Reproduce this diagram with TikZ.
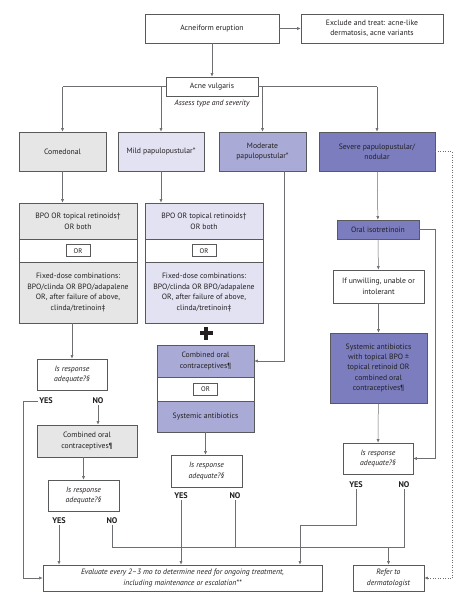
\documentclass[tikz,border=0pt]{standalone}
\usepackage{fontspec}
\setmainfont{PT Sans}
\usetikzlibrary{arrows.meta}
\definecolor{txt}{HTML}{231F20}
\definecolor{edge}{HTML}{58595B}
\definecolor{wire}{HTML}{6D6E71}
\definecolor{comfill}{HTML}{E6E6E6}
\definecolor{mildfill}{HTML}{E2E2F2}
\definecolor{modfill}{HTML}{A9ABD6}
\definecolor{sevfill}{HTML}{7B7DBE}

\begin{document}
\begin{tikzpicture}[x=1pt,y=-1pt,
		every node/.style={font=\fontsize{7.7}{10.4}\selectfont,align=center,text=txt,inner sep=1pt},
		box/.style={draw=edge,line width=0.7pt},
		sz/.style 2 args={minimum width=#1,minimum height=#2},
		orbox/.style={box,fill=white,sz={24}{12},font=\fontsize{6.8}{7}\selectfont},
		ask/.style={box,fill=white,font=\itshape\fontsize{7.7}{10.4}\selectfont},
		yn/.style={font=\bfseries\fontsize{8.2}{9}\selectfont},
		arr/.style={draw=wire,line width=0.5pt,-{Latex[length=3.5pt,width=3pt]}},
		wire/.style={draw=wire,line width=0.5pt}]
		\path[fill=white,use as bounding box] (0,0) rectangle (474,606);

		% Top
		\node[box,sz={134}{29}] (erupt) at (212,28.5) {Acneiform eruption};
		\node[box,sz={142}{29}] (excl) at (372,28.5) {Exclude and treat: acne-like\\dermatosis, acne variants};
		\node[box,sz={92}{19}] (vulg) at (212,86.5) {Acne vulgaris};
		\node[font=\itshape\fontsize{7.7}{10.4}\selectfont] (assess) at (212,104) {Assess type and severity};

		% Type and severity
		\node[box,fill=comfill,sz={87}{39}]  (com)  at (62.5,151.5) {Comedonal};
		\node[box,fill=mildfill,sz={86}{39}] (mild) at (161,151.5) {Mild papulopustular*};
		\node[box,fill=modfill,sz={87}{39}]  (mod)  at (262.5,151.5) {Moderate\\papulopustular*};
		\node[box,fill=sevfill,sz={116}{39}] (sev)  at (377,151.5) {Severe papulopustular/\\nodular};

		% Topical stacks (comedonal, mild)
		\foreach \s/\cx/\fc in {com/78/comfill,mild/204/mildfill} {
			\node[box,fill=\fc,sz={118}{36.5}] (\s A) at (\cx,221.25) {BPO OR topical retinoids†\\OR both};
			\node[box,fill=white,sz={118}{22.5}] (\s B) at (\cx,250.75) {};
			\node[orbox] at (\s B) {OR};
			\node[box,fill=\fc,sz={118}{61}] (\s C) at (\cx,292.5) {Fixed-dose combinations:\\BPO/clinda OR BPO/adapalene\\OR, after failure of above,\\clinda/tretinoin‡};
		}

		% Plus
		\coordinate (plus) at (206,333);
		\fill[txt] (plus) ++(-6.5,-2) rectangle ++(13,4);
		\fill[txt] (plus) ++(-2,-6.5) rectangle ++(4,13);

		% Oral stack (moderate)
		\node[box,fill=modfill,sz={97}{32}] (modA) at (205.5,361) {Combined oral\\contraceptives¶};
		\node[box,fill=white,sz={97}{24}] (modB) at (205.5,389) {};
		\node[orbox] at (modB) {OR};
		\node[box,fill=modfill,sz={97}{31}] (modC) at (205.5,416.5) {Systemic antibiotics};

		% Severe column
		\node[box,fill=sevfill,sz={82}{19}] (iso) at (378,229.5) {Oral isotretinoin};
		\node[box,fill=white,sz={91}{33}] (unw) at (378.5,286.5) {If unwilling, unable or\\intolerant};
		\node[box,fill=sevfill,sz={97}{70}] (sys) at (378.5,368) {Systemic antibiotics\\with topical BPO ±\\topical retinoid OR\\combined oral\\contraceptives¶};

		% Response checks
		\node[ask,sz={70}{31}] (q1) at (72,374.5) {Is response\\adequate?§};
		\node[box,fill=comfill,sz={100}{32}] (coc) at (87,441) {Combined oral\\contraceptives¶};
		\node[ask,sz={71}{31}] (q2) at (83.5,495.5) {Is response\\adequate?§};
		\node[ask,sz={71}{32}] (q3) at (206.5,471) {Is response\\adequate?§};
		\node[ask,sz={70}{31}] (q4) at (378,458.5) {Is response\\adequate?§};
		\node[yn] (yes1) at (46,401) {YES};  \node[yn] (no1) at (98,401) {NO};
		\node[yn] (yes2) at (59,521) {YES};  \node[yn] (no2) at (112,521) {NO};
		\node[yn] (yes3) at (181,496) {YES}; \node[yn] (no3) at (235,496) {NO};
		\node[yn] (yes4) at (356,485) {YES}; \node[yn] (no4) at (404,485) {NO};

		% Outcomes
		\node[ask,sz={279}{26}] (eval) at (182.5,578) {Evaluate every 2–3 mo to determine need for ongoing treatment,\\including maintenance or escalation**};
		\node[ask,sz={71}{26}] (refer) at (388.5,578) {Refer to\\dermatologist};

		% Connectors
		\draw[arr] (erupt) -- (excl);
		\draw[arr] (erupt) -- (vulg);
		\draw[wire] (vulg.west) -- (vulg.west -| com.north);
		\draw[wire] (vulg.east) -- (vulg.east -| sev.north);
		\foreach \n in {com,mild,mod,sev}
			\draw[arr] (vulg.center -| \n.north) -- (\n.north);
		\draw[arr] (com) -- (com.south |- comA.north);
		\draw[arr] (mild) -- (mild.south |- mildA.north);
		\draw[arr] (q1.north |- comC.south) -- (q1);
		\draw[arr] ([xshift=21.5pt]mod.south) |- (modA.east);
		\draw[arr] (modC.south) -- (modC.south |- q3.north);
		\draw[arr] (sev) -- (iso);
		\draw[arr] (iso) -- (unw);
		\draw[arr] (unw) -- (sys);
		\draw[arr] (sys) -- (q4);
		\draw[arr] (iso.east) -- ++(16,0) |- (q4.east);
		\draw[arr,dotted,line width=0.6pt] (sev.east) -- ++(17,0) |- (refer.east);

		% Yes / no paths
		\coordinate (lrail) at (23,401);
		\coordinate (bus) at (0,547);
		\coordinate (yjog) at (300,525);
		\draw[arr] (yes1.west) -- (lrail) |- (eval.west);
		\draw[arr] (no1.south) -- (no1.south |- coc.north);
		\draw[arr] (q2.north |- coc.south) -- (q2);
		\draw[arr] (yes2.south) -- (yes2.south |- eval.north);
		\draw[arr] (yes3.south) -- (yes3.south |- eval.north);
		\draw[wire] (no2.south) |- (bus -| no4.south) -- (no4.south);
		\draw[wire] (no3.south) -- (no3.south |- bus);
		\draw[arr] (bus -| refer.north) -- (refer.north);
		\draw[arr] (yes4.south) |- (yjog) -- (yjog |- eval.north);
	\end{tikzpicture}
\end{document}
